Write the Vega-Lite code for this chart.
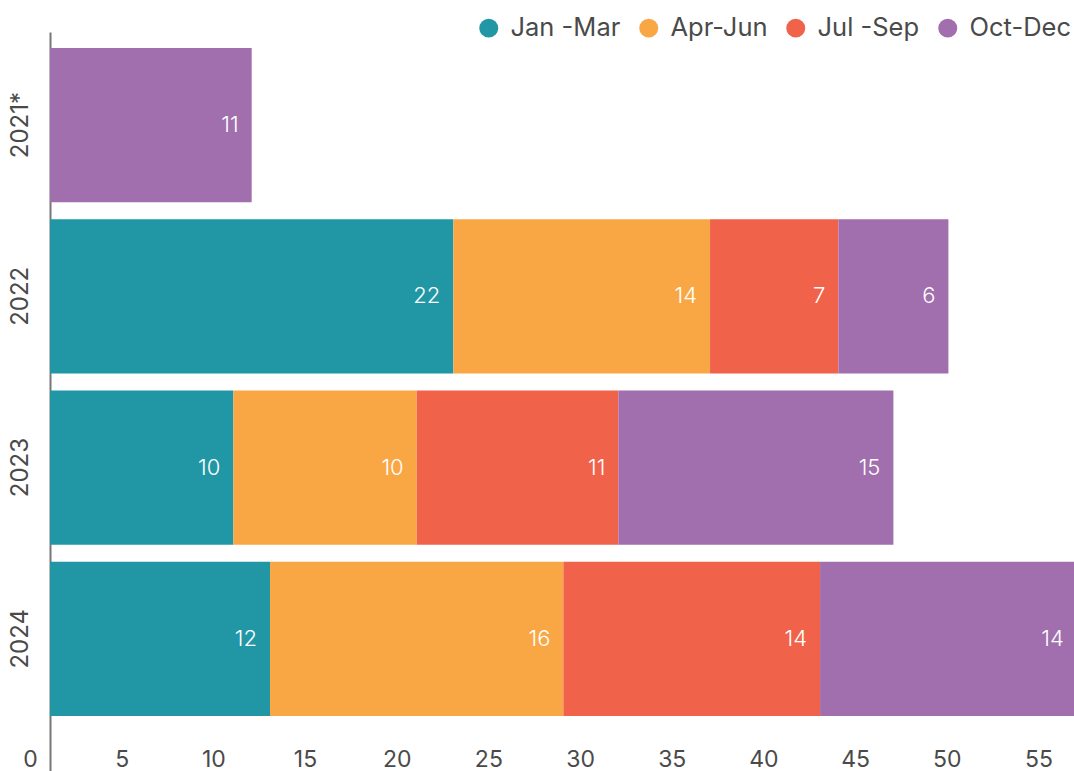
{
  "$schema": "https://vega.github.io/schema/vega-lite/v6.json",
  "width": 1024,
  "height": 739,
  "autosize": "none",
  "padding": {"left": 50, "top": 32, "right": 0, "bottom": 0},
  "background": "white",
  "config": {
    "view": {"stroke": null},
    "font": "Inter",
    "axis": {"labelFont": "Inter", "labelColor": "#4a4a4a", "labelFontSize": 23, "grid": false},
    "legend": {"labelFont": "Inter"}
  },
  "data": {
    "values": [
      {"year": "2021*", "quarter": "Oct-Dec", "q": 4, "value": 11},
      {"year": "2022", "quarter": "Jan -Mar", "q": 1, "value": 22},
      {"year": "2022", "quarter": "Apr-Jun", "q": 2, "value": 14},
      {"year": "2022", "quarter": "Jul -Sep", "q": 3, "value": 7},
      {"year": "2022", "quarter": "Oct-Dec", "q": 4, "value": 6},
      {"year": "2023", "quarter": "Jan -Mar", "q": 1, "value": 10},
      {"year": "2023", "quarter": "Apr-Jun", "q": 2, "value": 10},
      {"year": "2023", "quarter": "Jul -Sep", "q": 3, "value": 11},
      {"year": "2023", "quarter": "Oct-Dec", "q": 4, "value": 15},
      {"year": "2024", "quarter": "Jan -Mar", "q": 1, "value": 12},
      {"year": "2024", "quarter": "Apr-Jun", "q": 2, "value": 16},
      {"year": "2024", "quarter": "Jul -Sep", "q": 3, "value": 14},
      {"year": "2024", "quarter": "Oct-Dec", "q": 4, "value": 14}
    ]
  },
  "encoding": {
    "y": {
      "field": "year",
      "type": "nominal",
      "sort": ["2021*", "2022", "2023", "2024"],
      "scale": {"paddingInner": 0.1, "paddingOuter": 0.2075, "align": 0.225},
      "axis": {
        "title": null,
        "ticks": false,
        "labelAngle": -90,
        "labelPadding": 18,
        "labelFontSize": 24,
        "domainColor": "#77767b",
        "domainWidth": 2
      }
    },
    "x": {
      "field": "value",
      "type": "quantitative",
      "stack": "zero",
      "scale": {"domain": [0, 55.85], "nice": false},
      "axis": {
        "title": null,
        "values": [0, 5, 10, 15, 20, 25, 30, 35, 40, 45, 50, 55],
        "domain": false,
        "ticks": false,
        "tickSize": 0,
        "labelBaseline": "middle",
        "labelPadding": -12,
        "labelOffset": -20,
        "labelFlush": false
      }
    },
    "order": {"field": "q", "type": "quantitative"}
  },
  "layer": [
    {
      "mark": {"type": "bar"},
      "encoding": {
        "color": {
          "field": "quarter",
          "type": "nominal",
          "scale": {
            "domain": ["Jan -Mar", "Apr-Jun", "Jul -Sep", "Oct-Dec"],
            "range": ["#2197a6", "#f9a745", "#f0634a", "#a16fad"]
          },
          "legend": {
            "title": null,
            "orient": "none",
            "direction": "horizontal",
            "legendX": 426,
            "legendY": -17,
            "symbolType": "circle",
            "symbolSize": 360,
            "symbolStrokeWidth": 0,
            "symbolOpacity": 1,
            "labelFontSize": 25.5,
            "labelColor": "#4a4a4a",
            "labelOffset": 9,
            "columnPadding": 15,
            "padding": 0
          }
        }
      }
    },
    {
      "mark": {"type": "text", "align": "right", "baseline": "middle", "dx": -13, "color": "white", "fontSize": 22, "fontWeight": 300},
      "encoding": {
        "text": {"field": "value", "type": "quantitative"},
        "detail": {"field": "quarter", "type": "nominal"}
      }
    }
  ]
}
